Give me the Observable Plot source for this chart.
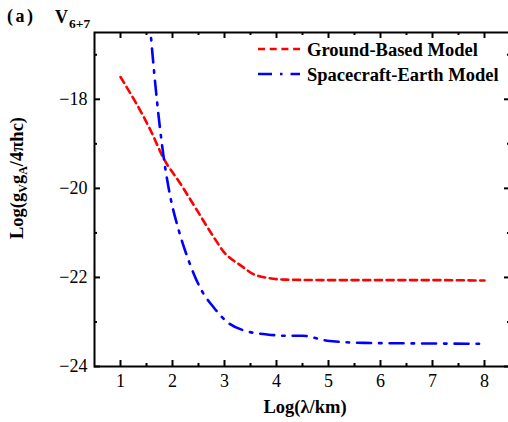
<!DOCTYPE html>
<html>
<head>
<meta charset="utf-8">
<script src="https://cdn.jsdelivr.net/npm/d3@7"></script>
<script src="https://cdn.jsdelivr.net/npm/@observablehq/plot@0.6"></script>
<style>
  html, body { margin: 0; padding: 0; background: white; }
</style>
</head>
<body>
<div id="chart"></div>
<script>
// Data
const groundX = [1.0, 1.58, 1.83, 2.15, 2.47, 2.79, 2.99, 3.31, 3.63, 4.2, 5.0, 6.0, 7.0, 8.0];
const groundY = [-17.5, -18.70, -19.33, -19.89, -20.49, -21.09, -21.43, -21.73, -21.96, -22.05, -22.06, -22.06, -22.06, -22.07];
const spaceX = [1.5, 1.58, 1.70, 1.83, 1.96, 2.12, 2.31, 2.54, 2.79, 3.05, 3.37, 3.82, 4.2, 4.5, 4.97, 5.68, 6.5, 8.0];
const spaceY = [-15.4, -16.52, -18.02, -19.30, -20.2, -20.94, -21.62, -22.25, -22.67, -23.0, -23.19, -23.28, -23.31, -23.31, -23.42, -23.47, -23.48, -23.49];
const xMajor = [1, 2, 3, 4, 5, 6, 7, 8];
const xMinor = [1.5, 2.5, 3.5, 4.5, 5.5, 6.5, 7.5];
const yMajor = [-18, -20, -22, -24];
const yMinor = [-17, -19, -21, -23];
const seriesNames = ["Ground-Based Model", "Spacecraft-Earth Model"];

const ground = groundX.map((x, i) => ({x, y: groundY[i]}));
const space = spaceX.map((x, i) => ({x, y: spaceY[i]}));

const W = 508, H = 422, mL = 94, mR = -2, mT = 32, mB = 56;
const fw = W - mL - mR, fh = H - mT - mB;
const tickStyle = {stroke: "black", strokeWidth: 2};

const svg = Plot.plot({
  width: W,
  height: H,
  marginLeft: mL,
  marginRight: mR,
  marginTop: mT,
  marginBottom: mB,
  style: {fontFamily: "'Liberation Serif', serif", fontSize: "18px", background: "white", color: "black"},
  x: {domain: [0.5, 8.5]},
  y: {domain: [-24, -16.5]},
  marks: [
    Plot.line(ground, {x: "x", y: "y", stroke: "#ff0000", strokeWidth: 2.6, strokeDasharray: "7,4.7", curve: "monotone-x", clip: true}),
    Plot.line(space, {x: "x", y: "y", stroke: "#0000ff", strokeWidth: 2.6, strokeDasharray: "14,8,2.5,8", curve: "monotone-x", clip: true}),
    // inward tick marks on all four sides
    Plot.tickX(xMajor, {x: d => d, insetTop: fh - 6, ...tickStyle}),
    Plot.tickX(xMinor, {x: d => d, insetTop: fh - 3, ...tickStyle}),
    Plot.tickX(xMajor, {x: d => d, insetBottom: fh - 6, ...tickStyle}),
    Plot.tickX(xMinor, {x: d => d, insetBottom: fh - 3, ...tickStyle}),
    Plot.tickY(yMajor, {y: d => d, insetRight: fw - 6, ...tickStyle}),
    Plot.tickY(yMinor, {y: d => d, insetRight: fw - 3, ...tickStyle}),
    Plot.tickY(yMajor, {y: d => d, insetLeft: fw - 6, ...tickStyle}),
    Plot.tickY(yMinor, {y: d => d, insetLeft: fw - 3, ...tickStyle}),
    // tick labels
    Plot.axisX(xMajor, {anchor: "bottom", tickSize: 0, tickPadding: 8, label: null, fontSize: 18}),
    Plot.axisY(yMajor, {anchor: "left", tickSize: 0, tickPadding: 7, label: null, fontSize: 18, tickFormat: d => "\u2212" + Math.abs(d)}),
    Plot.frame({stroke: "black", strokeWidth: 2})
  ]
});
document.getElementById("chart").appendChild(svg);

const s = d3.select(svg);
const serif = "'Liberation Serif', serif";

// Legend
const leg = s.append("g").attr("text-anchor", "start");
const legendRows = [
  {name: seriesNames[0], color: "#ff0000", dash: "7,4.7", y: 49},
  {name: seriesNames[1], color: "#0000ff", dash: "14,8,2.5,8", y: 74}
];
legendRows.forEach(r => {
  leg.append("line").attr("x1", 258).attr("x2", 300).attr("y1", r.y).attr("y2", r.y)
    .attr("stroke", r.color).attr("stroke-width", 2.6).attr("stroke-dasharray", r.dash);
  leg.append("text").attr("x", 307).attr("y", r.y + 6.5).attr("text-anchor", "start")
    .attr("font-family", serif).attr("font-weight", "bold").attr("font-size", 18.5)
    .attr("fill", "black").text(r.name);
});

// Panel label and title
s.append("text").attr("x", 7).attr("y", 22).attr("text-anchor", "start").attr("font-family", serif).attr("font-weight", "bold")
  .attr("font-size", 18).attr("letter-spacing", 2.5).text("(a)");
const t = s.append("text").attr("x", 55).attr("y", 23).attr("text-anchor", "start").attr("font-family", serif).attr("font-weight", "bold").attr("font-size", 18);
t.append("tspan").text("V");
t.append("tspan").attr("font-size", 13.5).attr("dy", 5).attr("dx", 1).text("6+7");

// x axis label
s.append("text").attr("x", 305).attr("y", 413).attr("text-anchor", "middle")
  .attr("font-family", serif).attr("font-weight", "bold").attr("font-size", 18.5).text("Log(\u03bb/km)");

// y axis label
const yl = s.append("text").attr("transform", "translate(23,178) rotate(-90)").attr("text-anchor", "middle")
  .attr("font-family", serif).attr("font-weight", "bold").attr("font-size", 18.5);
yl.append("tspan").text("Log(g");
yl.append("tspan").attr("font-size", 12).attr("dy", 4).text("V");
yl.append("tspan").attr("dy", -4).text("g");
yl.append("tspan").attr("font-size", 12).attr("dy", 4).text("A");
yl.append("tspan").attr("dy", -4).text("/4\u03c0hc)");
</script>
</body>
</html>
